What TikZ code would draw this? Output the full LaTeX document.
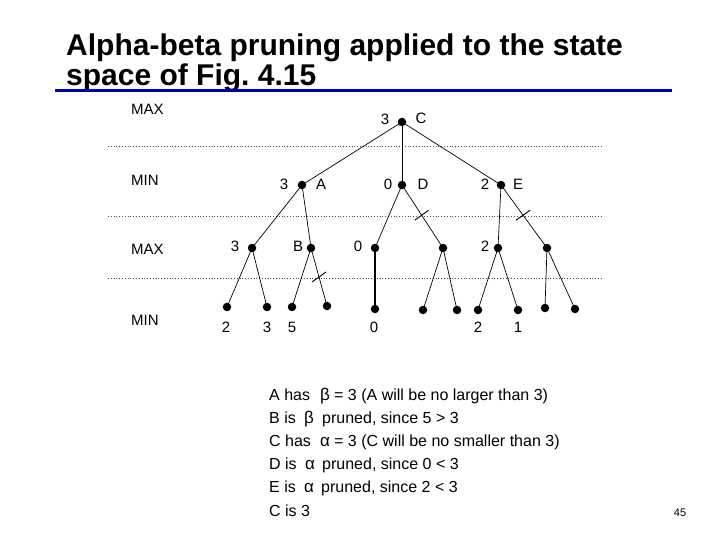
\documentclass[tikz,border=0pt]{standalone}
\usepackage{fontspec}
\setmainfont{Liberation Sans}
\frenchspacing
\begin{document}
\begin{tikzpicture}[x=1pt,y=-1pt,
  dot/.style={circle,fill=black,inner sep=0pt,minimum size=8.5pt},
  lbl/.style={font=\fontsize{15}{17}\selectfont,inner sep=0pt},
  lvl/.style={font=\fontsize{15}{17}\selectfont,inner sep=0pt,anchor=west},
  edge/.style={line width=0.7pt},
  cutmark/.style={line width=0.9pt},
  dotline/.style={dotted,line width=0.8pt,gray!60!black},
  txt/.style={font=\fontsize{16}{18}\selectfont,inner sep=0pt,anchor=base west},
  grk/.style={font=\fontsize{17}{18}\selectfont,inner sep=0pt,anchor=base west}]
\useasboundingbox (0,0) rectangle (720,540);
% title
\node[anchor=base west,inner sep=0pt,font=\bfseries\fontsize{30}{32}\selectfont] (t1) at (66,56) {Alpha-beta pruning applied to the state};
\node[anchor=base west,inner sep=0pt,font=\bfseries\fontsize{30}{32}\selectfont] (t2) at (66,86) {space of Fig. 4.15};
\fill[blue!70!black] (55,89.5) rectangle (672,92.5);
% level lines
\foreach \yy in {146,216,278} \draw[dotline] (108,\yy) -- (602,\yy);
\node[lvl] (l1) at (131,109) {MAX};
\node[lvl] (l2) at (131,180) {MIN};
\node[lvl] (l3) at (131,249) {MAX};
\node[lvl] (l4) at (131,320) {MIN};
% nodes
\node[dot] (C) at (402,122) {};
\node[dot] (A) at (302,185) {};
\node[dot] (D) at (402,185) {};
\node[dot] (E) at (501,185) {};
\node[dot] (m1) at (252,248) {};
\node[dot] (B) at (311,248) {};
\node[dot] (m3) at (375,248) {};
\node[dot] (m4) at (443,248) {};
\node[dot] (m5) at (498,248) {};
\node[dot] (m6) at (547,248) {};
\node[dot] (n1) at (227,307) {};
\node[dot] (n2) at (267,307) {};
\node[dot] (n3) at (292,307) {};
\node[dot] (n4) at (327,306) {};
\node[dot] (n5) at (375,309) {};
\node[dot] (n6) at (423,310) {};
\node[dot] (n7) at (457,310) {};
\node[dot] (n8) at (478,310) {};
\node[dot] (n9) at (518,310) {};
\node[dot] (n10) at (545,308) {};
\node[dot] (n11) at (575,309) {};
% edges
\draw[edge] (C.center) -- (A.center);
\draw[edge] (C.center) -- (D.center);
\draw[edge] (C.center) -- (E.center);
\draw[edge] (A.center) -- (m1.center);
\draw[edge] (A.center) -- (B.center);
\draw[edge] (D.center) -- (m3.center);
\draw[edge] (D.center) -- coordinate[pos=0.48] (cD) (m4.center);
\draw[edge] (E.center) -- (m5.center);
\draw[edge] (E.center) -- coordinate[pos=0.48] (cE) (m6.center);
\draw[edge] (m1.center) -- (n1.center);
\draw[edge] (m1.center) -- (n2.center);
\draw[edge] (B.center) -- (n3.center);
\draw[edge] (B.center) -- coordinate[pos=0.5] (cB) (n4.center);
\draw[line width=1.2pt] (m3.center) -- (n5.center);
\draw[edge] (m4.center) -- (n6.center);
\draw[edge] (m4.center) -- (n7.center);
\draw[edge] (m5.center) -- (n8.center);
\draw[edge] (m5.center) -- (n9.center);
\draw[edge] (m6.center) -- (n10.center);
\draw[edge] (m6.center) -- (n11.center);
% cut marks
\draw[cutmark] ([shift={(-7,5)}]cD) -- ([shift={(7,-5)}]cD);
\draw[cutmark] ([shift={(-7,5)}]cE) -- ([shift={(7,-5)}]cE);
\draw[cutmark] ([shift={(-7,5)}]cB) -- ([shift={(7,-5)}]cB);
% labels
\node[lbl] (vC) at (385,119) {3};
\node[lbl] (nC) at (421,118) {C};
\node[lbl] (vA) at (284,184) {3};
\node[lbl] (nA) at (321,184) {A};
\node[lbl] (vD) at (388,184) {0};
\node[lbl] (nD) at (423,184) {D};
\node[lbl] (vE) at (485,184) {2};
\node[lbl] (nE) at (518,184) {E};
\node[lbl] (v1) at (235,246) {3};
\node[lbl] (nB) at (298,246) {B};
\node[lbl] (v3) at (358,246) {0};
\node[lbl] (v5) at (485,246) {2};
\node[lbl] (w1) at (226,327) {2};
\node[lbl] (w2) at (267,327) {3};
\node[lbl] (w3) at (292,327) {5};
\node[lbl] (w5) at (374,327) {0};
\node[lbl] (w8) at (478,327) {2};
\node[lbl] (w9) at (518,327) {1};
% explanation
\node[txt] (e1a) at (269,400) {A has};
\node[grk] (e1g) at (320,400) {β};
\node[txt] (e1b) at (334,400) {= 3 (A will be no larger than 3)};
\node[txt] (e2a) at (269,423) {B is};
\node[grk] (e2g) at (304,423) {β};
\node[txt] (e2b) at (322,423) {pruned, since 5 > 3};
\node[txt] (e3a) at (269,446) {C has};
\node[grk] (e3g) at (320,446) {α};
\node[txt] (e3b) at (334,446) {= 3 (C will be no smaller than 3)};
\node[txt] (e4a) at (269,469) {D is};
\node[grk] (e4g) at (305,469) {α};
\node[txt] (e4b) at (322,469) {pruned, since 0 < 3};
\node[txt] (e5a) at (269,492) {E is};
\node[grk] (e5g) at (304,492) {α};
\node[txt] (e5b) at (321,492) {pruned, since 2 < 3};
\node[txt] (e6) at (269,516) {C is 3};
\node[inner sep=0pt,font=\fontsize{11}{13}\selectfont] (pg) at (680,513) {45};
\end{tikzpicture}
\end{document}
